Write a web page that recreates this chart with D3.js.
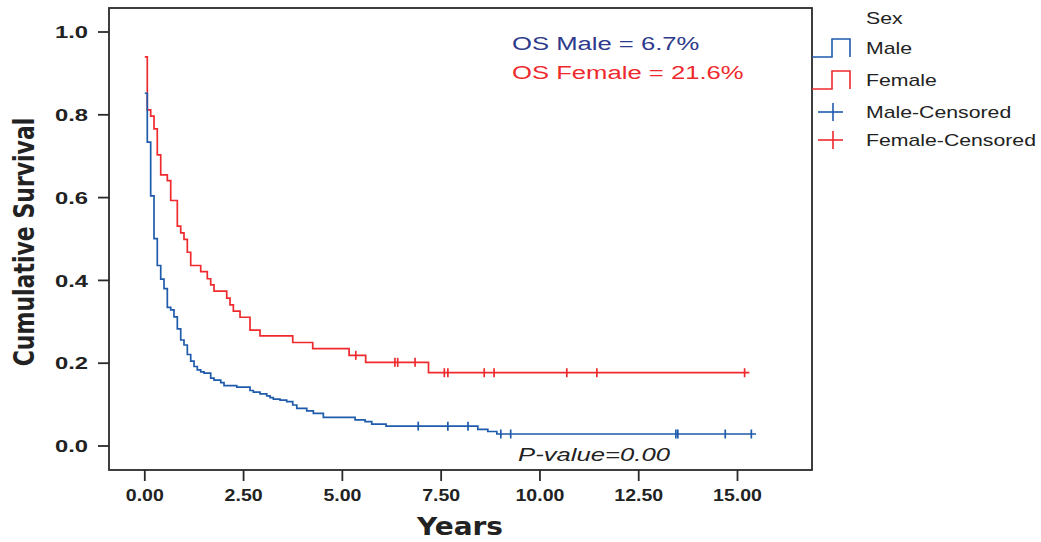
<!DOCTYPE html>
<html><head><meta charset="utf-8">
<script src="https://cdn.jsdelivr.net/npm/d3@7"></script>
<style>body{margin:0;background:#fff}</style></head>
<body>
<svg id="c" width="1041" height="542"></svg>
<script>
const xTicks = [0, 2.5, 5, 7.5, 10, 12.5, 15];
const xTickLabels = ["0.00", "2.50", "5.00", "7.50", "10.00", "12.50", "15.00"];
const yTicks = [0, 0.2, 0.4, 0.6, 0.8, 1.0];
const yTickLabels = ["0.0", "0.2", "0.4", "0.6", "0.8", "1.0"];

const maleStart = 0.852;
const maleTimes = [0.063,0.149,0.233,0.316,0.403,0.486,0.570,0.656,0.739,0.823,0.909,0.992,1.076,1.162,1.246,1.329,1.415,1.499,1.668,1.752,1.922,2.005,2.327,2.663,2.747,2.916,3.086,3.170,3.253,3.423,3.592,3.744,3.846,4.099,4.266,4.519,5.322,5.575,5.744,6.106,8.428,8.681,8.909];
const maleSurv  = [0.734,0.604,0.501,0.436,0.403,0.380,0.335,0.329,0.312,0.283,0.256,0.244,0.221,0.205,0.192,0.184,0.179,0.176,0.164,0.159,0.153,0.146,0.142,0.134,0.130,0.126,0.121,0.117,0.113,0.111,0.107,0.099,0.091,0.085,0.079,0.069,0.063,0.059,0.053,0.048,0.040,0.035,0.029];
const maleCensor = [6.92,7.67,8.18,9.01,9.26,13.44,13.49,14.69,15.35];
const maleEnd = 15.47;

const femaleStart = 0.94;
const femaleTimes = [0.063,0.149,0.233,0.316,0.403,0.570,0.656,0.823,0.909,0.992,1.076,1.162,1.415,1.582,1.668,1.752,2.073,2.157,2.241,2.410,2.663,2.916,3.744,4.250,5.170,5.590,7.180];
const femaleSurv  = [0.812,0.797,0.766,0.703,0.655,0.641,0.593,0.531,0.515,0.499,0.468,0.436,0.421,0.404,0.389,0.374,0.357,0.341,0.326,0.311,0.280,0.266,0.250,0.235,0.219,0.202,0.177];
const femaleCensor = [5.34,6.33,6.40,6.84,7.58,7.67,8.59,8.84,10.68,11.44,15.18];
const femaleEnd = 15.30;

const legendLabels = ["Male", "Female", "Male-Censored", "Female-Censored"];

const BLUE = "#1f5bab", RED = "#ee2a2e";
const svg = d3.select("#c");
const x = d3.scaleLinear().domain([0, 15]).range([144.8, 737.5]);
const y = d3.scaleLinear().domain([0, 1]).range([446, 32]);
const frame = {l: 109, r: 812, t: 8, b: 470};
const SX = 1.22;

function txt(g, px, py, s, opt) {
  const t = g.append("text")
    .attr("transform", `translate(${px},${py}) scale(${opt.sx || SX},1)`)
    .attr("font-family", opt.family || "Liberation Sans, Arial, sans-serif")
    .attr("font-size", opt.size)
    .attr("font-weight", opt.weight || "normal")
    .attr("font-style", opt.style || "normal")
    .attr("fill", opt.fill || "#222")
    .attr("text-anchor", opt.anchor || "start")
    .attr("dominant-baseline", "central")
    .text(s);
  return t;
}

// frame
svg.append("rect").attr("x", frame.l).attr("y", frame.t)
  .attr("width", frame.r - frame.l).attr("height", frame.b - frame.t)
  .attr("fill", "none").attr("stroke", "#2a2a2a").attr("stroke-width", 1.8);

// axes
const ga = svg.append("g");
yTicks.forEach((v, i) => {
  ga.append("line").attr("x1", frame.l - 11).attr("x2", frame.l).attr("y1", y(v)).attr("y2", y(v))
    .attr("stroke", "#2a2a2a").attr("stroke-width", 1.8);
  txt(ga, 88, y(v), yTickLabels[i], {size: 17, weight: "bold", anchor: "end", sx: 1.4});
});
xTicks.forEach((v, i) => {
  ga.append("line").attr("x1", x(v)).attr("x2", x(v)).attr("y1", frame.b).attr("y2", frame.b + 11)
    .attr("stroke", "#2a2a2a").attr("stroke-width", 1.8);
  txt(ga, x(v), 496, xTickLabels[i], {size: 16, weight: "bold", anchor: "middle"});
});
txt(ga, 460, 526, "Years", {size: 25, weight: "bold", anchor: "middle", family: "DejaVu Sans, sans-serif", sx: 1.12});
svg.append("text")
  .attr("transform", `translate(24,242) scale(1.3,1) rotate(-90)`)
  .attr("font-family", "DejaVu Sans, sans-serif").attr("font-size", 22).attr("font-weight", "bold")
  .attr("fill", "#222").attr("text-anchor", "middle").attr("dominant-baseline", "central")
  .text("Cumulative Survival");

// curves
function survAt(times, surv, start, t) {
  let s = start;
  for (let i = 0; i < times.length; i++) if (times[i] <= t) s = surv[i];
  return s;
}
function drawCurve(times, surv, start, end, cens, color) {
  const pts = [[0, start]];
  times.forEach((t, i) => pts.push([t, surv[i]]));
  pts.push([end, surv[surv.length - 1]]);
  const line = d3.line().x(d => x(d[0])).y(d => y(d[1])).curve(d3.curveStepAfter);
  svg.append("path").attr("d", line(pts)).attr("fill", "none")
    .attr("stroke", color).attr("stroke-width", 1.7);
  cens.forEach(t => {
    const yy = y(survAt(times, surv, start, t));
    svg.append("line").attr("x1", x(t)).attr("x2", x(t)).attr("y1", yy - 4.5).attr("y2", yy + 4.5)
      .attr("stroke", color).attr("stroke-width", 1.7);
  });
}
drawCurve(femaleTimes, femaleSurv, femaleStart, femaleEnd, femaleCensor, RED);
drawCurve(maleTimes, maleSurv, maleStart, maleEnd, maleCensor, BLUE);

// annotations
txt(svg, 512, 44, "OS Male = 6.7%", {size: 19, fill: "#2e3a8c", sx: 1.35});
txt(svg, 512, 73, "OS Female = 21.6%", {size: 19, fill: "#ee2a2e", sx: 1.35});
txt(svg, 594, 455, "P-value=0.00", {size: 19, style: "italic", anchor: "middle", sx: 1.35});

// legend
const lg = svg.append("g");
txt(lg, 866, 18, "Sex", {size: 17, sx: 1.25});
[[BLUE, 48], [RED, 80]].forEach(([c, cy], i) => {
  lg.append("path").attr("d", `M812,${cy+9}H832V${cy-9}H850V${cy+9}`)
    .attr("fill", "none").attr("stroke", c).attr("stroke-width", 1.6);
  txt(lg, 866, cy, legendLabels[i], {size: 17, sx: 1.25});
});
[[BLUE, 112], [RED, 140]].forEach(([c, cy], i) => {
  lg.append("line").attr("x1", 818).attr("x2", 843).attr("y1", cy).attr("y2", cy).attr("stroke", c).attr("stroke-width", 1.6);
  lg.append("line").attr("x1", 833).attr("x2", 833).attr("y1", cy - 9).attr("y2", cy + 9).attr("stroke", c).attr("stroke-width", 1.6);
  txt(lg, 866, cy, legendLabels[i + 2], {size: 17, sx: 1.25});
});
</script>
</body></html>
